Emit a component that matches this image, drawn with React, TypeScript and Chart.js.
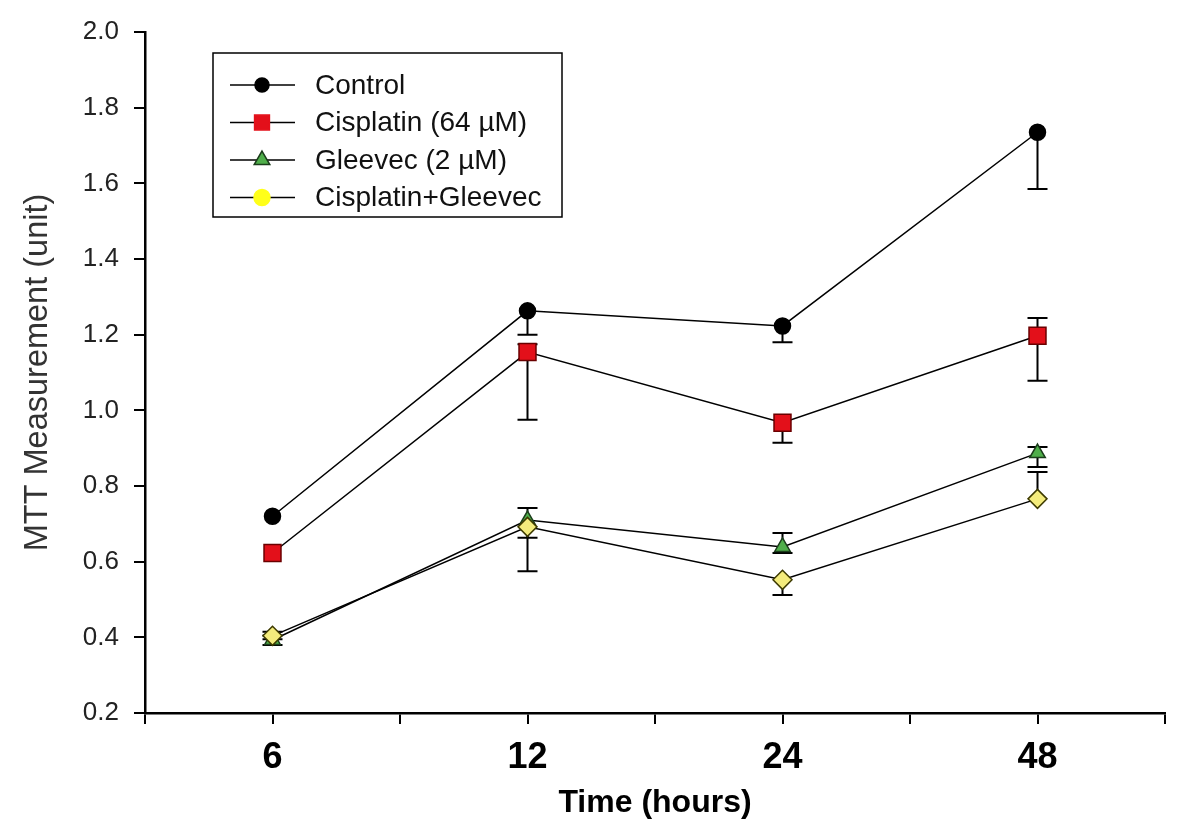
import { useEffect, useRef } from 'react';
import { Chart, registerables } from 'chart.js';

Chart.register(...registerables);

// ---- data ----
const hourLabels = ['6', '12', '24', '48'];
// slot of each time point on the 0..8 x axis (two slots per category)
const hourSlots = [1, 3, 5, 7];

const controlMean = [0.72, 1.263, 1.223, 1.735];
const controlLow = [null, 1.2, 1.18, 1.585];
const controlHigh = [null, null, null, null];

const cisplatinMean = [0.623, 1.154, 0.967, 1.197];
const cisplatinLow = [null, 0.975, 0.914, 1.078];
const cisplatinHigh = [null, 1.175, null, 1.244];

const gleevecMean = [0.393, 0.71, 0.639, 0.887];
const gleevecLow = [0.38, 0.663, 0.623, 0.85];
const gleevecHigh = [0.405, 0.742, 0.676, 0.903];

const comboMean = [0.404, 0.692, 0.552, 0.766];
const comboLow = [0.395, 0.575, 0.512, null];
const comboHigh = [0.415, null, null, 0.837];

const yTicksMin = 0.2;
const yTicksMax = 2.0;
const yTickStep = 0.2;

const seriesNames = ['Control', 'Cisplatin (64 \u00B5M)', 'Gleevec (2 \u00B5M)', 'Cisplatin+Gleevec'];

const FONT = '"Liberation Sans", Arial, Helvetica, sans-serif';

type Series = {
  name: string;
  mean: number[];
  low: (number | null)[];
  high: (number | null)[];
  pointStyle: string;
  radius: number;
  bg: string;
  border: string;
  legendStyle: string;
  legendRadius: number;
  legendBg: string;
  legendBorder: string;
};

const series: Series[] = [
  {
    name: seriesNames[0], mean: controlMean, low: controlLow, high: controlHigh,
    pointStyle: 'circle', radius: 8, bg: '#000000', border: '#000000',
    legendStyle: 'circle', legendRadius: 7, legendBg: '#000000', legendBorder: '#000000',
  },
  {
    name: seriesNames[1], mean: cisplatinMean, low: cisplatinLow, high: cisplatinHigh,
    pointStyle: 'rect', radius: 12, bg: '#e3101a', border: '#6a0000',
    legendStyle: 'rect', legendRadius: 10.5, legendBg: '#e3101a', legendBorder: '#e3101a',
  },
  {
    name: seriesNames[2], mean: gleevecMean, low: gleevecLow, high: gleevecHigh,
    pointStyle: 'triangle', radius: 9, bg: '#4fae4a', border: '#1b3d1b',
    legendStyle: 'triangle', legendRadius: 9, legendBg: '#4fae4a', legendBorder: '#1b3d1b',
  },
  {
    name: seriesNames[3], mean: comboMean, low: comboLow, high: comboHigh,
    pointStyle: 'rectRot', radius: 9.5, bg: '#f4ec7c', border: '#3d3a00',
    legendStyle: 'circle', legendRadius: 8, legendBg: '#ffff1a', legendBorder: '#ffff1a',
  },
];

function drawMarker(ctx: CanvasRenderingContext2D, style: string, x: number, y: number, r: number, bg: string, border: string) {
  ctx.save();
  ctx.fillStyle = bg;
  ctx.strokeStyle = border;
  ctx.lineWidth = 1.5;
  ctx.beginPath();
  if (style === 'circle') {
    ctx.arc(x, y, r, 0, Math.PI * 2);
  } else if (style === 'rect') {
    const s = r * Math.SQRT1_2;
    ctx.rect(x - s, y - s, 2 * s, 2 * s);
  } else if (style === 'triangle') {
    for (let k = 0; k < 3; k++) {
      const a = (k * 2 * Math.PI) / 3;
      const px = x + Math.sin(a) * r;
      const py = y - Math.cos(a) * r;
      if (k === 0) ctx.moveTo(px, py); else ctx.lineTo(px, py);
    }
    ctx.closePath();
  } else {
    ctx.moveTo(x - r, y);
    ctx.lineTo(x, y - r);
    ctx.lineTo(x + r, y);
    ctx.lineTo(x, y + r);
    ctx.closePath();
  }
  ctx.fill();
  ctx.stroke();
  ctx.restore();
}

const errorBarPlugin = {
  id: 'errorBars',
  beforeDatasetsDraw(chart: any) {
    const ctx: CanvasRenderingContext2D = chart.ctx;
    const xs = chart.scales.x;
    const ys = chart.scales.y;
    ctx.save();
    ctx.strokeStyle = '#000';
    ctx.lineWidth = 2;
    const cap = 10;
    series.forEach((s) => {
      s.mean.forEach((m, i) => {
        const px = xs.getPixelForValue(hourSlots[i]);
        const py = ys.getPixelForValue(m);
        [s.low[i], s.high[i]].forEach((end) => {
          if (end === null || end === undefined) return;
          const pe = ys.getPixelForValue(end);
          ctx.beginPath();
          ctx.moveTo(px, py);
          ctx.lineTo(px, pe);
          ctx.moveTo(px - cap, pe);
          ctx.lineTo(px + cap, pe);
          ctx.stroke();
        });
      });
    });
    ctx.restore();
  },
};

const legendBoxPlugin = {
  id: 'legendBox',
  afterDraw(chart: any) {
    const ctx: CanvasRenderingContext2D = chart.ctx;
    const bx = 213, by = 53, bw = 349, bh = 164;
    ctx.save();
    ctx.fillStyle = '#ffffff';
    ctx.fillRect(bx, by, bw, bh);
    ctx.strokeStyle = '#000';
    ctx.lineWidth = 1.5;
    ctx.strokeRect(bx, by, bw, bh);
    series.forEach((s, i) => {
      const y = 85 + i * 37.5;
      ctx.strokeStyle = '#000';
      ctx.lineWidth = 1.5;
      ctx.beginPath();
      ctx.moveTo(230, y);
      ctx.lineTo(295, y);
      ctx.stroke();
      drawMarker(ctx, s.legendStyle, 262, y, s.legendRadius, s.legendBg, s.legendBorder);
      ctx.fillStyle = '#111';
      ctx.font = `28px ${FONT}`;
      ctx.textBaseline = 'middle';
      ctx.textAlign = 'left';
      ctx.fillText(s.name, 315, y + 1);
    });
    ctx.restore();
  },
};

export default function App() {
  const canvasRef = useRef<HTMLCanvasElement | null>(null);

  useEffect(() => {
    if (!canvasRef.current) return;
    const chart = new Chart(canvasRef.current, {
      type: 'line',
      data: {
        datasets: series.map((s, i) => ({
          label: s.name,
          data: s.mean.map((v, j) => ({ x: hourSlots[j], y: v })),
          order: series.length - 1 - i,
          borderColor: '#000',
          borderWidth: 1.5,
          pointStyle: s.pointStyle as any,
          pointRadius: s.radius,
          pointHoverRadius: s.radius,
          pointBackgroundColor: s.bg,
          pointBorderColor: s.border,
          pointBorderWidth: 1.5,
          fill: false,
          tension: 0,
        })),
      },
      options: {
        responsive: false,
        animation: false,
        devicePixelRatio: 1,
        layout: { padding: { top: 32, right: 34, left: 0, bottom: 0 } },
        plugins: {
          legend: { display: false },
          tooltip: { enabled: false },
        },
        scales: {
          x: {
            type: 'linear',
            min: 0,
            max: 8,
            afterFit: (scale: any) => { scale.height = 118; },
            ticks: {
              stepSize: 1,
              autoSkip: false,
              maxRotation: 0,
              padding: 12,
              color: '#000',
              font: { family: FONT, size: 36, weight: 'bold' },
              callback: (v: any) => {
                const idx = hourSlots.indexOf(Number(v));
                return idx >= 0 ? hourLabels[idx] : '';
              },
            },
            grid: {
              drawOnChartArea: false,
              drawTicks: true,
              tickLength: 11,
              color: '#000',
              lineWidth: 2,
            },
            border: { display: true, color: '#000', width: 2.5 },
            title: {
              display: true,
              text: 'Time (hours)',
              color: '#000',
              font: { family: FONT, size: 32, weight: 'bold' },
              padding: { top: 0, bottom: 9 },
            },
          },
          y: {
            type: 'linear',
            min: yTicksMin,
            max: yTicksMax,
            afterFit: (scale: any) => { scale.width = 145; },
            ticks: {
              stepSize: yTickStep,
              padding: 15,
              color: '#222',
              font: { family: FONT, size: 26 },
              callback: (v: any) => Number(v).toFixed(1),
            },
            grid: {
              drawOnChartArea: false,
              drawTicks: true,
              tickLength: 11,
              color: '#000',
              lineWidth: 2,
            },
            border: { display: true, color: '#000', width: 2.5 },
            title: {
              display: true,
              text: 'MTT Measurement (unit)',
              color: '#333',
              font: { family: FONT, size: 32.5 },
              padding: { top: 19, bottom: 0 },
            },
          },
        },
      },
      plugins: [errorBarPlugin, legendBoxPlugin],
    } as any);
    return () => chart.destroy();
  }, []);

  return (
    <div style={{ position: 'absolute', left: 0, top: 0, width: 1199, height: 831, background: '#fff' }}>
      <canvas ref={canvasRef} width={1199} height={831} style={{ display: 'block' }} />
    </div>
  );
}
